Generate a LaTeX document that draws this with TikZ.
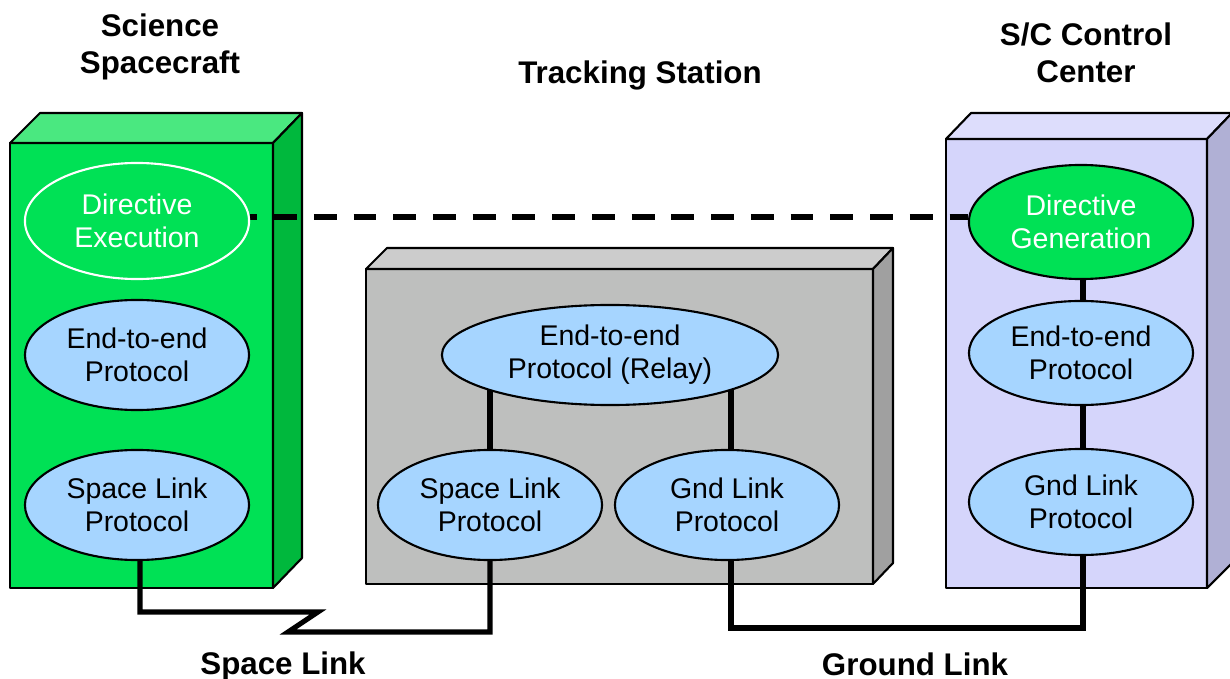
\documentclass[tikz,border=0pt]{standalone}
\usepackage{fontspec}
\setmainfont{Liberation Sans}
\usetikzlibrary{shapes.geometric,backgrounds}
\definecolor{gfront}{RGB}{0,225,85}
\definecolor{gtop}{RGB}{74,232,128}
\definecolor{gside}{RGB}{0,184,61}
\definecolor{tfront}{RGB}{190,191,190}
\definecolor{ttop}{RGB}{204,204,204}
\definecolor{tside}{RGB}{160,160,160}
\definecolor{lfront}{RGB}{213,213,251}
\definecolor{ltop}{RGB}{221,221,252}
\definecolor{lside}{RGB}{176,176,213}
\definecolor{eblue}{RGB}{166,213,255}
\begin{document}
\begin{tikzpicture}[x=0.01cm,y=-0.01cm,
  proto/.style={ellipse,draw=black,line width=0.6pt,fill=eblue,inner sep=0pt,
    minimum width=2.24cm,minimum height=1.1cm,align=center,
    font=\fontsize{8.1}{9.4}\selectfont},
  title/.style={font=\bfseries\fontsize{8.9}{10.5}\selectfont,align=center},
  boxedge/.style={draw=black,line width=0.6pt,line join=round},
  link/.style={line width=1.45pt,line join=miter},
]
\useasboundingbox (0,0) rectangle (1230,679);
% nodes
\node[proto,fill=gfront,draw=white,text=white,minimum height=1.16cm] (de) at (137,221) {Directive\\Execution};
\node[proto] (e1) at (137,355) {End-to-end\\Protocol};
\node[proto] (s1) at (137,505) {Space Link\\Protocol};
\node[proto,minimum width=3.36cm,minimum height=1.0cm] (relay) at (610,355) {End-to-end\\Protocol (Relay)};
\node[proto] (s2) at (490,505) {Space Link\\Protocol};
\node[proto] (g2) at (727,505) {Gnd Link\\Protocol};
\node[proto,fill=gfront,text=white,minimum height=1.14cm] (dg) at (1081,222) {Directive\\Generation};
\node[proto,minimum height=1.04cm] (e3) at (1081,353) {End-to-end\\Protocol};
\node[proto,minimum height=1.06cm] (g3) at (1081,502) {Gnd Link\\Protocol};
% titles
\node[title] (tsc) at (160,47) {Science\\Spacecraft};
\node[title] (tts) at (640,75) {Tracking Station};
\node[title] (tcc) at (1086,53) {S/C Control\\Center};
\node[title] (tsl) at (283,666) {Space Link};
\node[title] (tgl) at (915,664) {Ground Link};
\begin{pgfonlayer}{background}
  % science spacecraft box
  \fill[gfront] (10,143) rectangle (273,588);
  \draw[boxedge,fill=gtop] (10,143) -- (40,113) -- (302,113) -- (273,143) -- cycle;
  \draw[boxedge,fill=gside] (273,143) -- (302,113) -- (302,558) -- (273,588) -- cycle;
  \draw[boxedge] (10,143) rectangle (273,588);
  % tracking station box
  \fill[tfront] (366,269) rectangle (873,584);
  \draw[boxedge,fill=ttop] (366,269) -- (387,248) -- (893,248) -- (873,269) -- cycle;
  \draw[boxedge,fill=tside] (873,269) -- (893,248) -- (893,563) -- (873,584) -- cycle;
  \draw[boxedge] (366,269) rectangle (873,584);
  % control center box
  \fill[lfront] (946,139) rectangle (1207,588);
  \draw[boxedge,fill=ltop] (946,139) -- (971,113) -- (1232,113) -- (1207,139) -- cycle;
  \draw[boxedge,fill=lside] (1207,139) -- (1232,113) -- (1232,563) -- (1207,588) -- cycle;
  \draw[boxedge] (946,139) rectangle (1207,588);
  % connectors
  \draw[link] (relay.center -| s2.center) -- (s2.center);
  \draw[link] (relay.center -| 731,0) -- (g2.center -| 731,0);
  \draw[link] (dg.center -| 1083,0) -- (e3.center -| 1083,0);
  \draw[link] (e3.center -| 1083,0) -- (g3.center -| 1083,0);
  \draw[line width=1.45pt,dash pattern=on 6.5pt off 4.8pt,dash phase=4.5pt] (de.east |- 0,217) -- (dg.west |- 0,217);
  \draw[link] (s1.center -| 140,0) -- (140,612) -- (318,612) -- (288,632) -| (s2.center);
  \draw[link] (g2.center -| 731,0) -- (731,628) -| (g3.center -| 1083,0);
\end{pgfonlayer}
\end{tikzpicture}
\end{document}
